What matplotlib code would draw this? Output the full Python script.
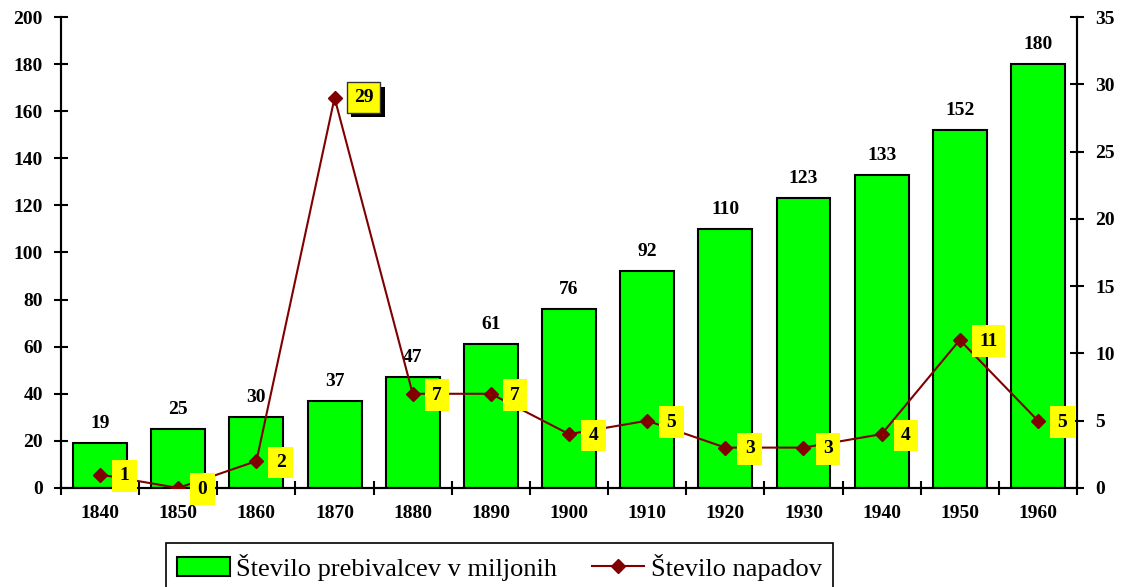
import matplotlib.pyplot as plt
import matplotlib.patheffects as pe
import numpy as np

plt.rcParams['font.family'] = ['Liberation Serif', 'DejaVu Serif']

years = ['1840', '1850', '1860', '1870', '1880', '1890', '1900',
         '1910', '1920', '1930', '1940', '1950', '1960']
population = [19, 25, 30, 37, 47, 61, 76, 92, 110, 123, 133, 152, 180]
attacks = [1, 0, 2, 29, 7, 7, 4, 5, 3, 3, 4, 11, 5]

pop_label = 'Število prebivalcev v miljonih'
att_label = 'Število napadov'

x = np.arange(len(years))

fig = plt.figure(figsize=(11.24, 5.87), dpi=100)
ax = fig.add_axes([0.0543, 0.1687, 0.9039, 0.8023])
ax2 = ax.twinx()

bars = ax.bar(x, population, width=0.69, color='#00ff00', edgecolor='black',
              linewidth=1.5, label=pop_label, zorder=2)
for xi, v in zip(x, population):
    ax.annotate(str(v), (xi, v), xytext=(0, 8), textcoords='offset points',
                ha='center', va='bottom', fontsize=14, fontweight='bold')

ax.set_xlim(-0.5, len(years) - 0.5)
ax.set_ylim(0, 200)
ax.set_yticks(range(0, 201, 20))
ax.set_xticks(x)
ax.set_xticklabels(years, fontsize=14, fontweight='bold')
ax.set_xticks(np.arange(-0.5, len(years)), minor=True)
ax.tick_params(axis='x', which='major', length=0, pad=12)
ax.tick_params(axis='x', which='minor', direction='inout', length=10, width=1.5)
ax.tick_params(axis='y', direction='inout', length=10, width=1.5, labelsize=14, pad=8)
for lab in ax.get_yticklabels():
    lab.set_fontweight('bold')

line, = ax2.plot(x, attacks, color='#800000', linewidth=1.5, marker='D',
                 markersize=7.5, label=att_label, zorder=3)
ax2.set_ylim(0, 35)
ax2.set_yticks(range(0, 36, 5))
ax2.tick_params(axis='y', direction='inout', length=10, width=1.5, labelsize=14, pad=8)
for lab in ax2.get_yticklabels():
    lab.set_fontweight('bold')

for xi, v in zip(x, attacks):
    if v == 29:
        t = ax2.annotate(str(v), (xi, v), xytext=(14, 0), textcoords='offset points',
                         ha='left', va='center', fontsize=14, fontweight='bold',
                         bbox=dict(boxstyle='square,pad=0.35', fc='yellow', ec='#333333', lw=1),
                         zorder=5)
        t.get_bbox_patch().set_path_effects([
            pe.SimplePatchShadow(offset=(3, -3), shadow_rgbFace='black', alpha=1),
            pe.Normal()])
    else:
        ax2.annotate(str(v), (xi, v), xytext=(14, -1), textcoords='offset points',
                     ha='left', va='center', fontsize=14, fontweight='bold',
                     bbox=dict(boxstyle='square,pad=0.38', fc='yellow', ec='none'),
                     zorder=5)

for a in (ax, ax2):
    a.spines['top'].set_visible(False)
    for s in ('left', 'right', 'bottom'):
        a.spines[s].set_linewidth(1.5)

leg = fig.legend([bars, line], [pop_label, att_label], loc='upper left',
                 bbox_to_anchor=(0.148, 0.075), bbox_transform=fig.transFigure,
                 ncol=2, fontsize=19, frameon=True, fancybox=False, edgecolor='black',
                 framealpha=1, borderaxespad=0, handlelength=2.0, columnspacing=1.3,
                 handletextpad=0.25, borderpad=0.4)
leg.get_frame().set_linewidth(1.2)

fig.savefig('out.png', dpi=100)
